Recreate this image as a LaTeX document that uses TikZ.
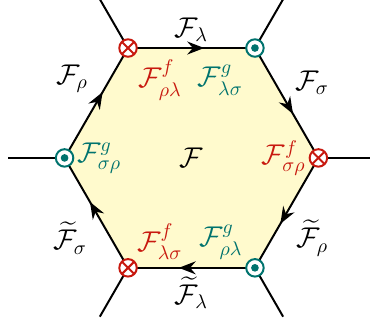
\documentclass[tikz,border=0pt]{standalone}
\usepackage{amsmath}
\usepackage{amssymb}
\usetikzlibrary{arrows.meta,decorations.markings}
\definecolor{fred}{RGB}{200,25,15}
\definecolor{fteal}{RGB}{0,115,110}
\definecolor{fface}{RGB}{255,250,205}
\tikzset{
  otimesnode/.style={circle, draw=fred, line width=1pt, fill=white, minimum size=0.31cm, inner sep=0pt,
    path picture={\draw[fred, line width=1pt] (path picture bounding box.north west) -- (path picture bounding box.south east)
      (path picture bounding box.north east) -- (path picture bounding box.south west);}},
  odotnode/.style={circle, draw=fteal, line width=1pt, fill=white, minimum size=0.31cm, inner sep=0pt,
    path picture={\fill[fteal] (path picture bounding box.center) circle (0.068);}},
  midarrow/.style={postaction={decorate}, decoration={markings,
    mark=at position 0.6 with {\arrow{Stealth[length=3mm,width=2.3mm,inset=1mm]}}}},
}
\begin{document}
\begin{tikzpicture}[line width=1pt, font=\Large]
        \useasboundingbox (-3.395,-3.00) rectangle (3.165,2.80);
        \coordinate (vtl) at (120:2.25);
        \coordinate (vtr) at (60:2.25);
        \coordinate (vr) at (0:2.25);
        \coordinate (vbr) at (-60:2.25);
        \coordinate (vbl) at (-120:2.25);
        \coordinate (vl) at (180:2.25);
        \coordinate (etl) at (120:3.25);
        \coordinate (etr) at (60:3.25);
        \coordinate (er) at (0:3.25);
        \coordinate (ebr) at (-60:3.25);
        \coordinate (ebl) at (-120:3.25);
        \coordinate (el) at (180:3.25);
        \fill[fface] (vtl) -- (vtr) -- (vr) -- (vbr) -- (vbl) -- (vl) -- cycle;
        \draw[midarrow] (vtl) -- (vtr);
        \draw[midarrow] (vtr) -- (vr);
        \draw[midarrow] (vr) -- (vbr);
        \draw[midarrow] (vbr) -- (vbl);
        \draw[midarrow] (vbl) -- (vl);
        \draw[midarrow] (vl) -- (vtl);
        \draw (vtl) -- (etl);
        \draw (vtr) -- (etr);
        \draw (vr) -- (er);
        \draw (vbr) -- (ebr);
        \draw (vbl) -- (ebl);
        \draw (vl) -- (el);
        \node[otimesnode] (mtl) at (vtl) {};
        \node[odotnode] (mtr) at (vtr) {};
        \node[otimesnode] (mr) at (vr) {};
        \node[odotnode] (mbr) at (vbr) {};
        \node[otimesnode] (mbl) at (vbl) {};
        \node[odotnode] (ml) at (vl) {};
        \node (face) at (0,0) {$\mathcal{F}$};
        \node[fred] (frl) at (-0.56,1.38) {$\mathcal{F}^f_{\rho\lambda}$};
        \node[fteal] (glsig) at (0.51,1.38) {$\mathcal{F}^g_{\lambda\sigma}$};
        \node[fred, anchor=east, inner sep=1pt] (fsr) at (mr.west) {$\mathcal{F}^f_{\sigma\rho}$};
        \node[fteal, anchor=west, inner sep=1pt] (gsr) at (ml.east) {$\mathcal{F}^g_{\sigma\rho}$};
        \node[fred] (flsig) at (-0.56,-1.49) {$\mathcal{F}^f_{\lambda\sigma}$};
        \node[fteal] (grl) at (0.52,-1.49) {$\mathcal{F}^g_{\rho\lambda}$};
        \node (lam) at (0,2.27) {$\mathcal{F}_\lambda$};
        \node (sig) at (2.14,1.33) {$\mathcal{F}_\sigma$};
        \node (trho) at (2.14,-1.42) {$\widetilde{\mathcal{F}}_\rho$};
        \node (tlam) at (0,-2.39) {$\widetilde{\mathcal{F}}_\lambda$};
        \node (tsig) at (-2.15,-1.42) {$\widetilde{\mathcal{F}}_\sigma$};
        \node (rho) at (-2.12,1.40) {$\mathcal{F}_\rho$};
    \end{tikzpicture}
\end{document}
